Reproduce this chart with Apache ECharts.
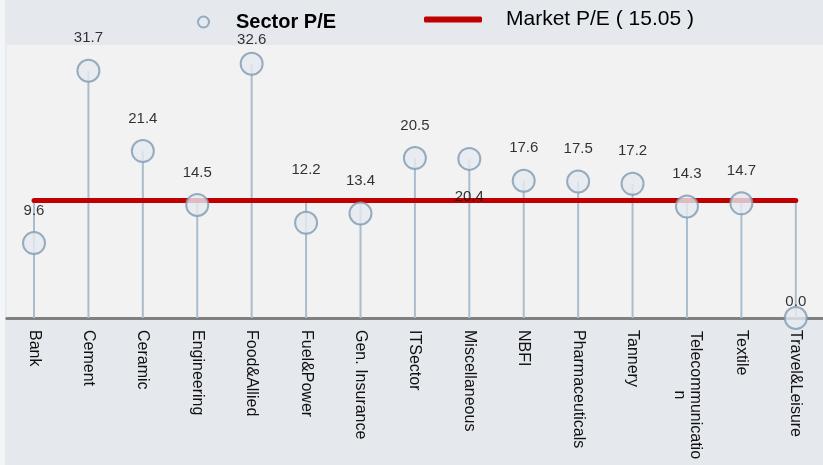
<!DOCTYPE html>
<html>
<head>
<meta charset="utf-8">
<script src="https://cdn.jsdelivr.net/npm/echarts@6/dist/echarts.min.js"></script>
<style>
  html, body { margin: 0; padding: 0; background: #f4f5f6; }
  #main { width: 823px; height: 465px; }
</style>
</head>
<body>
<div id="main"></div>
<script>
// data
var sectors = ['Bank', 'Cement', 'Ceramic', 'Engineering', 'Food&Allied', 'Fuel&Power',
  'Gen. Insurance', 'ITSector', 'Miscellaneous', 'NBFI', 'Pharmaceuticals', 'Tannery',
  'Telecommunication', 'Textile', 'Travel&Leisure'];
var sectorPE = [9.6, 31.7, 21.4, 14.5, 32.6, 12.2, 13.4, 20.5, 20.4, 17.6, 17.5, 17.2, 14.3, 14.7, 0.0];
var marketPE = 15.05;

var myChart = echarts.init(document.getElementById('main'));

var font = 'Liberation Sans, Arial, sans-serif';

// labels that were pushed around in the original
var labelTweaks = {
  'Food&Allied': { distance: 4 },
  'Fuel&Power': { distance: 33 },
  'Miscellaneous': { position: 'bottom', distance: 18 },
  'Travel&Leisure': { distance: -3 }
};

var scatterData = sectorPE.map(function (v, i) {
  var item = { value: v };
  if (labelTweaks[sectors[i]]) item.label = labelTweaks[sectors[i]];
  return item;
});

var marketName = 'Market P/E ( ' + marketPE.toFixed(2) + ' )';

var option = {
  backgroundColor: '#f4f5f6',
  animation: false,
  graphic: [{
    type: 'rect', z: -10, silent: true,
    shape: { x: 5, y: 0, width: 818, height: 465 },
    style: { fill: '#e5e9ee' }
  }],
  legend: [{
    data: [{ name: 'Sector P/E', icon: 'circle' }],
    left: 192, top: 7,
    itemWidth: 11, itemHeight: 11,
    itemStyle: { color: '#e5eaf0', borderColor: '#7f9ab2', borderWidth: 2 },
    textStyle: { fontFamily: font, fontSize: 20, fontWeight: 'bold', color: '#000', padding: [0, 0, 0, 22] }
  }, {
    data: [{ name: marketName, icon: 'roundRect' }],
    left: 419, top: 4,
    itemWidth: 58, itemHeight: 6,
    itemStyle: { color: '#c00000' },
    textStyle: { fontFamily: font, fontSize: 21, color: '#000', padding: [0, 0, 0, 19] }
  }],
  grid: {
    left: 6.8, right: 0, top: 45, bottom: 147,
    show: true, backgroundColor: '#f2f2f2', borderWidth: 0
  },
  xAxis: {
    type: 'category',
    data: sectors,
    boundaryGap: true,
    axisLine: { lineStyle: { color: '#808080', width: 3 } },
    axisTick: { show: false },
    axisLabel: {
      rotate: -90,
      margin: 12,
      interval: 0,
      fontFamily: font,
      fontSize: 16,
      color: '#111',
      formatter: function (v) {
        if (v.length > 16) {
          return '{a|' + v.slice(0, 16) + '}\n{a|' + v.slice(16) + '}';
        }
        return v;
      },
      rich: { a: { width: 130, align: 'center', fontSize: 16, fontFamily: font, color: '#111' } }
    }
  },
  yAxis: {
    type: 'value',
    min: 0, max: 35,
    show: false,
    splitLine: { show: false }
  },
  series: [{
    // stems: from axis up to the higher of sector and market P/E
    type: 'custom',
    name: 'stems',
    z: 1,
    data: sectorPE,
    renderItem: function (params, api) {
      var top = Math.max(api.value(1), marketPE);
      var p0 = api.coord([api.value(0), 0]);
      var p1 = api.coord([api.value(0), top]);
      return {
        type: 'line',
        shape: { x1: p0[0], y1: p0[1], x2: p1[0], y2: p1[1] },
        style: { stroke: '#a9bdcd', lineWidth: 2 }
      };
    },
    encode: { x: 0, y: 1 },
    clip: false
  }, {
    type: 'line',
    name: marketName,
    z: 2,
    data: sectors.map(function () { return marketPE; }),
    symbol: 'none',
    lineStyle: { color: '#c00000', width: 5, cap: 'round' },
    itemStyle: { color: '#c00000' }
  }, {
    type: 'scatter',
    name: 'Sector P/E',
    z: 3,
    clip: false,
    data: scatterData,
    symbolSize: 22,
    itemStyle: { color: '#e5eaf0', borderColor: '#7f9ab2', borderWidth: 2 },
    label: {
      show: true,
      position: 'top',
      distance: 13,
      fontFamily: font,
      fontSize: 15,
      color: '#000',
      formatter: function (p) { return p.value.toFixed(1); }
    }
  }]
};

myChart.setOption(option);
</script>
</body>
</html>
